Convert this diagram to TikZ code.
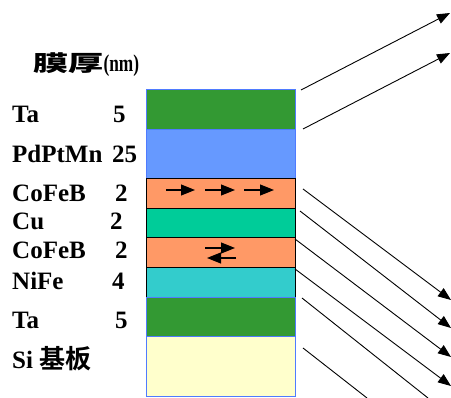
\documentclass[tikz,border=0pt]{standalone}
\usepackage{fontspec}
\setmainfont{Liberation Serif}[BoldFont={Liberation Serif Bold}]
\newfontfamily\lsb{Liberation Serif Bold}
\newfontfamily\cjkb{Noto Sans CJK SC Bold}
\newfontfamily\cjkk{Noto Sans CJK SC Black}
\usetikzlibrary{arrows.meta}
\definecolor{tagreen}{HTML}{339933}
\definecolor{pblue}{HTML}{6699FF}
\definecolor{corange}{HTML}{FF9966}
\definecolor{cuteal}{HTML}{00CC99}
\definecolor{nicyan}{HTML}{33CCCC}
\definecolor{siyellow}{HTML}{FFFFCC}
\definecolor{edgeblue}{HTML}{4F7BFF}
\begin{document}
\begin{tikzpicture}[x=1pt,y=-1pt,
  layer/.style={rectangle, inner sep=0pt, minimum width=149pt, line width=1pt},
  bluel/.style={layer, draw=edgeblue},
  blackl/.style={layer, draw=black},
  lab/.style={anchor=base west, inner sep=0pt, font=\lsb\fontsize{25}{30}\selectfont},
  ray/.style={line width=0.9pt, -{Triangle[length=13pt,width=10pt]}},
  cutray/.style={line width=0.9pt},
  mag/.style={line width=1.1pt, -{Triangle[length=14pt,width=11pt]}}]
\useasboundingbox (0,0) rectangle (451,398);

% layers
\node[bluel, fill=tagreen, minimum height=40pt] (ta1) at (220.5,110) {};
\node[bluel, fill=pblue, minimum height=49pt] (pd) at (220.5,154.5) {};
\node[blackl, fill=corange, minimum height=30pt] (cofeb1) at (220.5,194) {};
\node[blackl, fill=cuteal, minimum height=29pt] (cu) at (220.5,223.5) {};
\node[blackl, fill=corange, minimum height=30pt] (cofeb2) at (220.5,253) {};
\node[blackl, fill=nicyan, minimum height=29.5pt] (nife) at (220.5,282.75) {};
\node[bluel, fill=tagreen, minimum height=39.5pt] (ta2) at (220.5,317.25) {};
\node[bluel, fill=siyellow, minimum height=60pt] (si) at (220.5,367) {};

% magnetization arrows
\draw[mag] (166,190) -- (195,190);
\draw[mag] (205,190) -- (235,190);
\draw[mag] (244,190) -- (274,190);
\draw[mag] (205,248) -- (235,248);
\draw[mag] (236,258) -- (207,258);

% labels
\node[anchor=base west, inner sep=0pt] (head) at (33,72)
  {{\cjkk\fontsize{22}{22}\selectfont\scalebox{1.6}[1]{膜厚}}{\lsb\fontsize{24}{24}\selectfont\scalebox{0.72}[1]{(nm)}}};
\node[lab] (l1) at (12,123) {Ta};
\node[lab] (n1) at (113,123) {5};
\node[lab] (l2) at (12,163) {PdPtMn};
\node[lab] (n2) at (112,163) {25};
\node[lab] (l3) at (12,202) {CoFeB};
\node[lab] (n3) at (115,202) {2};
\node[lab] (l4) at (12,230) {Cu};
\node[lab] (n4) at (110,230) {2};
\node[lab] (l5) at (12,259) {CoFeB};
\node[lab] (n5) at (115,259) {2};
\node[lab] (l6) at (12,290) {NiFe};
\node[lab] (n6) at (112,290) {4};
\node[lab] (l7) at (12,329) {Ta};
\node[lab] (n7) at (115,329) {5};
\node[lab] (l8) at (12,369) {Si {\cjkb\fontsize{26}{30}\selectfont 基板}};

% rays
\coordinate (r1s) at (301,90);   \coordinate (r1e) at (450,13);
\coordinate (r2s) at (303,129);  \coordinate (r2e) at (450,53);
\coordinate (r3s) at (303,189);  \coordinate (r3e) at (451,300);
\coordinate (r4s) at (300,211);  \coordinate (r4e) at (451,328);
\coordinate (r5s) at (295,239);  \coordinate (r5e) at (451,357);
\coordinate (r6s) at (295,269);  \coordinate (r6e) at (451,386);
\coordinate (r7s) at (302,298);  \coordinate (r7e) at (428,398);
\coordinate (r8s) at (303,348);  \coordinate (r8e) at (367,398);
\draw[ray] (r1s) -- (r1e);
\draw[ray] (r2s) -- (r2e);
\draw[ray] (r3s) -- (r3e);
\draw[ray] (r4s) -- (r4e);
\draw[ray] (r5s) -- (r5e);
\draw[ray] (r6s) -- (r6e);
\draw[cutray] (r7s) -- (r7e);
\draw[cutray] (r8s) -- (r8e);
\end{tikzpicture}
\end{document}
